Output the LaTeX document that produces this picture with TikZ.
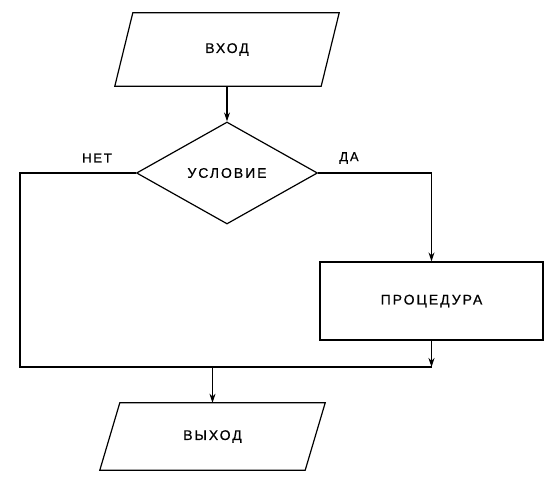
\documentclass[tikz,border=0pt]{standalone}
\usepackage{fontspec}
\setmainfont{Liberation Sans}[LetterSpace=14, FakeBold=0.6]
\usetikzlibrary{shapes.geometric,arrows.meta}
\tikzset{
  txt/.style={inner sep=0pt, font=\fontsize{14}{15}\selectfont},
  box/.style={txt, draw, line width=1.2pt},
  io/.style={txt, rectangle},
  cond/.style={box, diamond, minimum width=181pt, minimum height=102pt},
  proc/.style={box, rectangle, minimum width=223pt, minimum height=78pt},
  line/.style={line width=1.2pt, line join=miter},
  arr/.style={line, -{Stealth[length=9pt,width=6pt]}},
  lbl/.style={font=\fontsize{13}{14}\selectfont, inner sep=0pt}
}
\begin{document}
\begin{tikzpicture}[x=1pt,y=-1pt]
\useasboundingbox (0,0) rectangle (549,478);
% blocks
\node[io, minimum width=206pt, minimum height=73pt] (in) at (227,49.5) {ВХОД};
\node[cond] (c) at (227,173) {УСЛОВИЕ};
\node[proc] (p) at (431.5,301) {ПРОЦЕДУРА};
\node[io, minimum width=205pt, minimum height=67pt] (out) at (212.5,436.5) {ВЫХОД};
% parallelogram outlines of the input/output blocks
\draw[line] ([xshift=9pt]in.north west) -- ([xshift=9pt]in.north east)
  -- ([xshift=-9pt]in.south east) -- ([xshift=-9pt]in.south west) -- cycle;
\draw[line] ([xshift=10pt]out.north west) -- ([xshift=10pt]out.north east)
  -- ([xshift=-10pt]out.south east) -- ([xshift=-10pt]out.south west) -- cycle;
% routing points
\coordinate (nw) at (20,173);
\coordinate (sw) at (20,367);
\coordinate (j) at (p.south |- sw);
\coordinate (m) at (out.north |- sw);
% connectors
\draw[arr] (in.south) -- (c.north);
\draw[arr] (c.east) -| (p.north);
\draw[arr] (p.south) -- (j);
\draw[line] (c.west) -- (nw) -- (sw) -- (j);
\draw[arr] (m) -- (out.north);
% branch labels
\node[lbl] (no) at (97,158) {НЕТ};
\node[lbl] (yes) at (349,158) {ДА};
\end{tikzpicture}
\end{document}
